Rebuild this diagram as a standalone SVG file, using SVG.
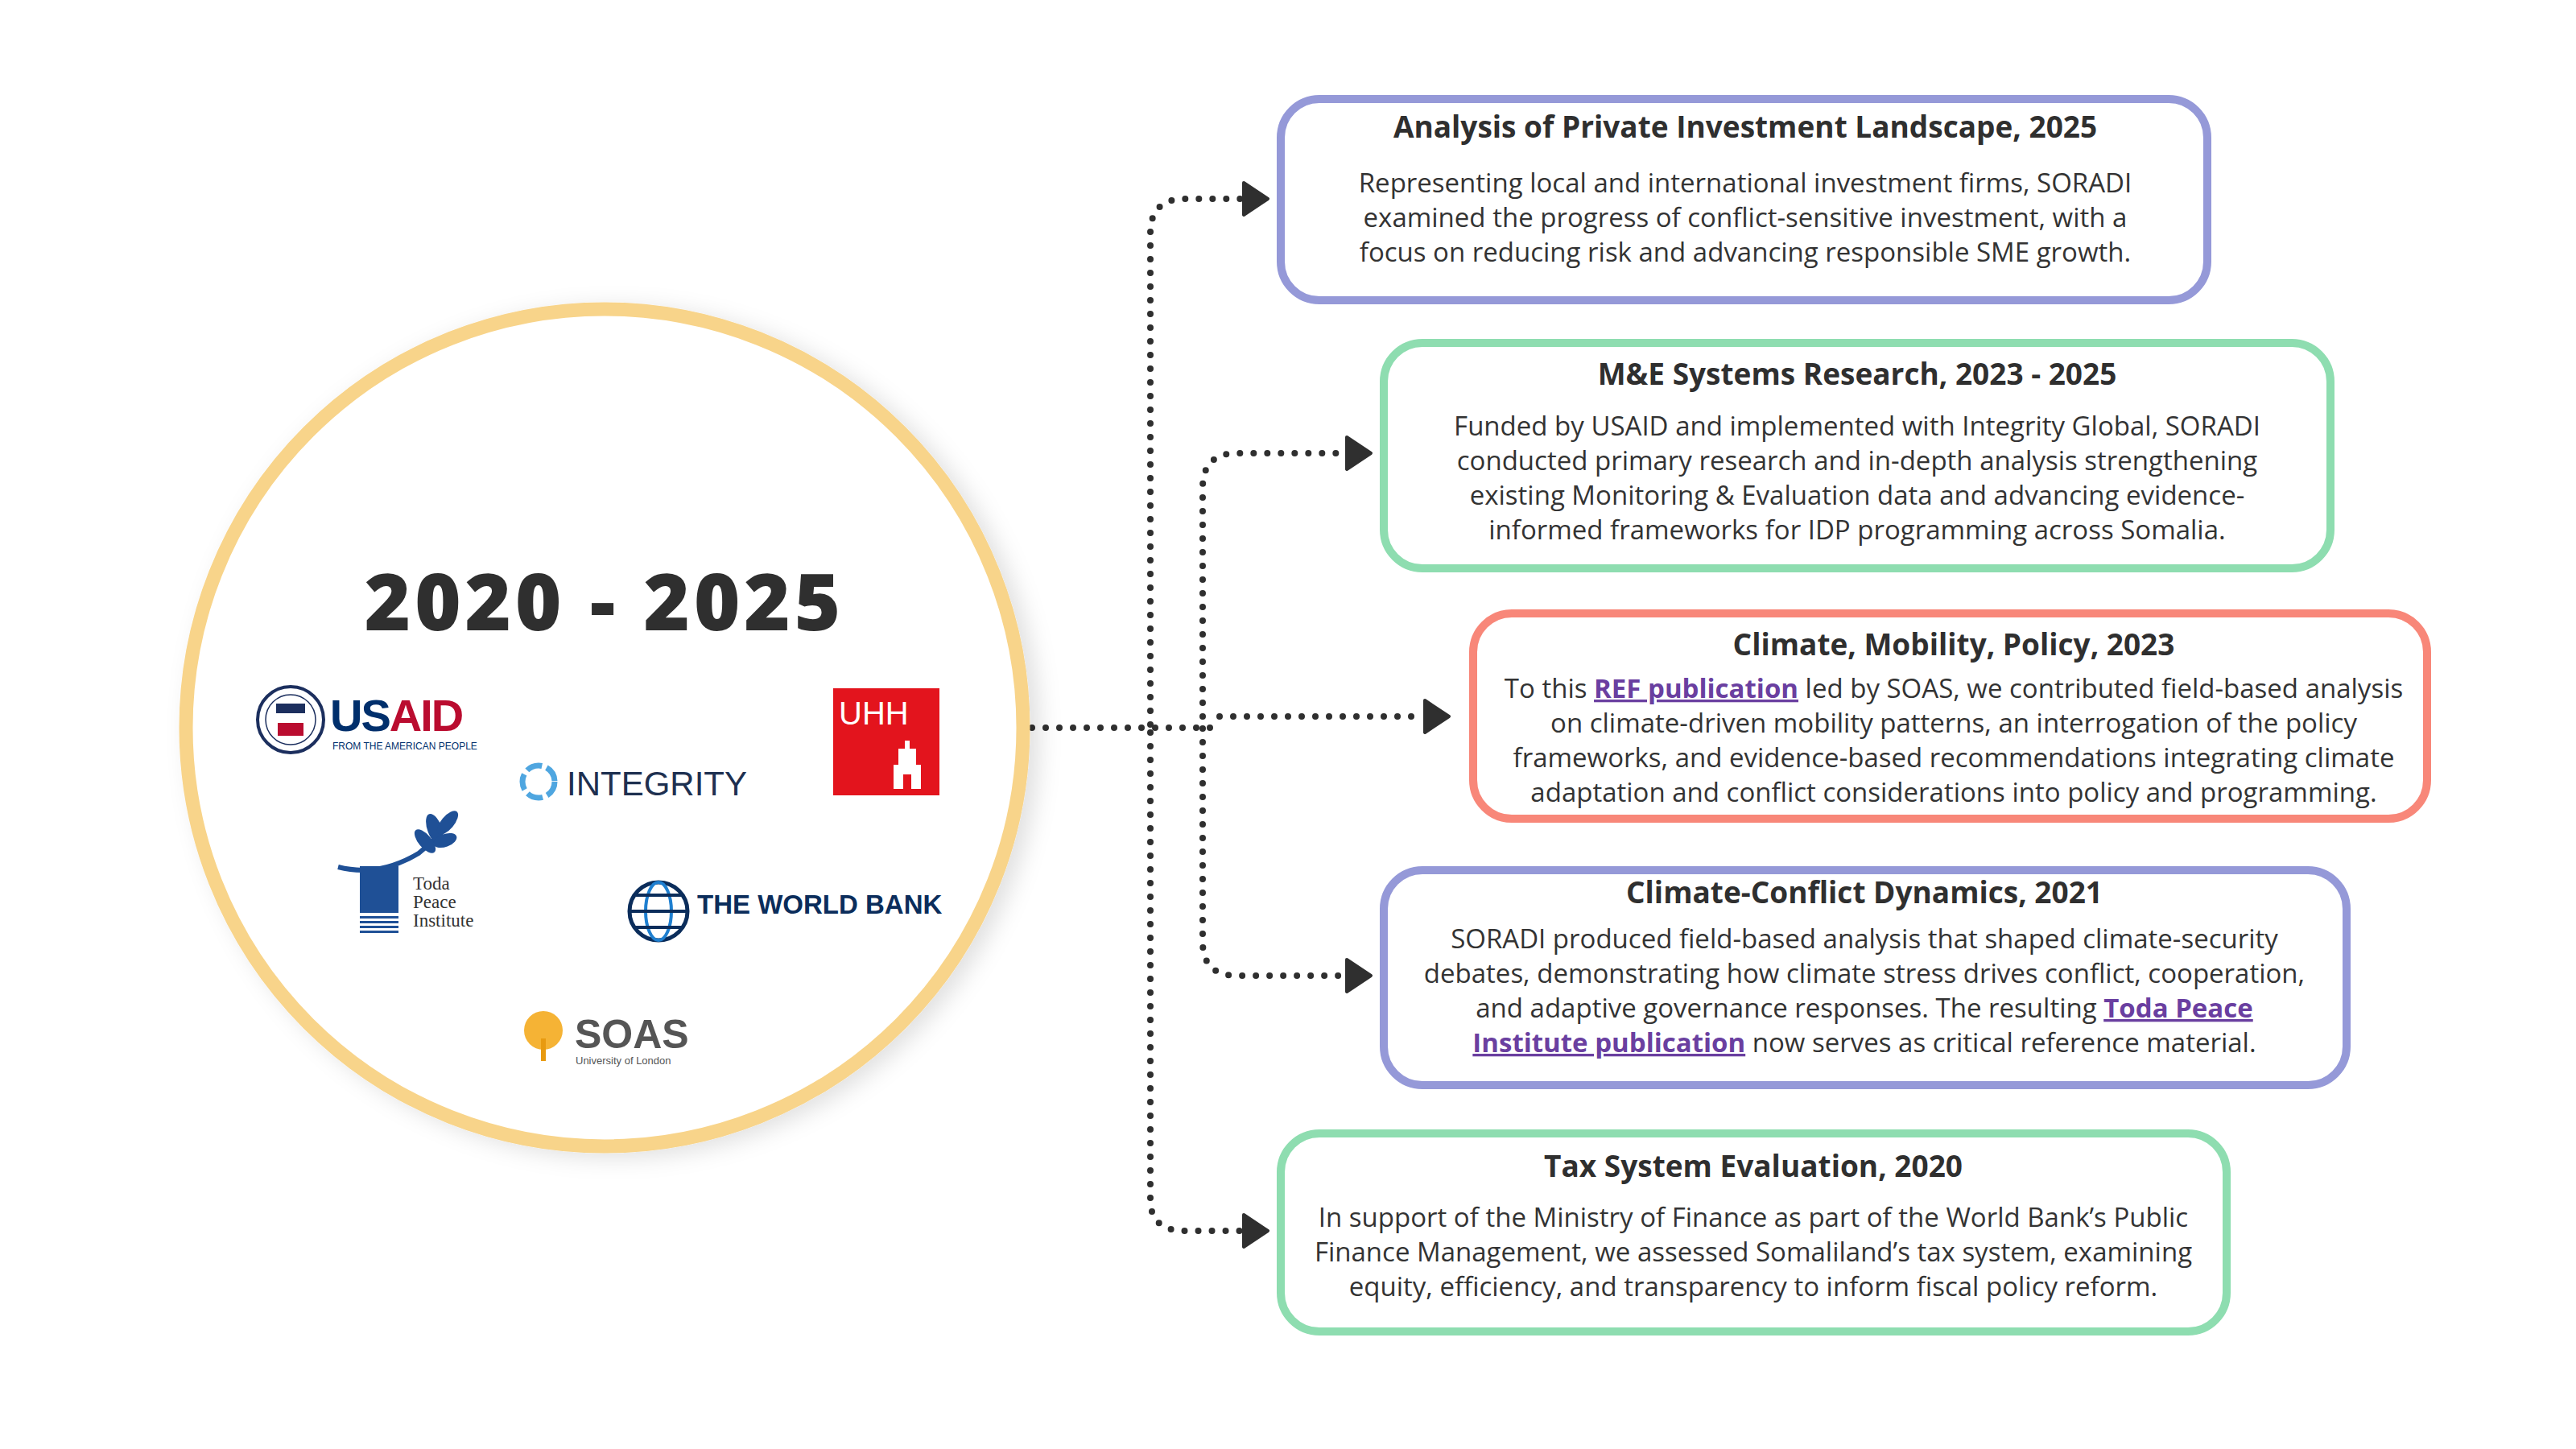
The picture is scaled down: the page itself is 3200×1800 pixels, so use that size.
<svg xmlns="http://www.w3.org/2000/svg" width="3200" height="1800" viewBox="0 0 3200 1800">
<style>
.box{fill:#fff;stroke-width:10}
.pur{stroke:#9599D8}.grn{stroke:#8EDDB0}.red{stroke:#F88779}
.t{font-family:"Open Sans","Liberation Sans",sans-serif;font-weight:700;font-size:37px;fill:#2f2f2f;text-anchor:middle}
.b{font-family:"Open Sans","Liberation Sans",sans-serif;font-size:33px;fill:#333;text-anchor:middle}
.lk{font-weight:700;fill:#6A3FA0;text-decoration:underline}
.c{fill:none;stroke:#2f2f2f;stroke-width:8;stroke-linecap:round;stroke-dasharray:0 17}
.m{marker-end:url(#ah)}
</style>
<defs>
<marker id="ah" markerUnits="userSpaceOnUse" markerWidth="40" markerHeight="50" refX="4" refY="25" orient="auto">
<path d="M4,5 L34,25 L4,45 Z" fill="#2f2f2f" stroke="#2f2f2f" stroke-width="4" stroke-linejoin="round"/>
</marker>
<filter id="sh" x="-20%" y="-20%" width="140%" height="140%"><feDropShadow dx="12" dy="6" stdDeviation="14" flood-color="#000" flood-opacity="0.12"/></filter>
</defs>
<rect width="3200" height="1800" fill="#fff"/>
<g id="connectors">
<path class="c" d="M1282,904 H1510"/>
<path class="c m" d="M1515,890 H1770"/>
<path class="c m" d="M1429,900 V290 Q1429,247 1472,247 H1545"/>
<path class="c m" d="M1429,910 V1490 Q1429,1529 1472,1529 H1545"/>
<path class="c m" d="M1494,890 V606 Q1494,563 1537,563 H1673"/>
<path class="c m" d="M1494,905 V1170 Q1494,1212 1537,1212 H1673"/>
</g>
<g id="circle">
<circle cx="751" cy="904" r="520" fill="#fff" stroke="#F8D48A" stroke-width="17" filter="url(#sh)"/>
<text x="751" y="783" font-family="'Open Sans','Liberation Sans',sans-serif" font-weight="800" font-size="98" fill="#2f2f2f" text-anchor="middle" letter-spacing="5">2020 - 2025</text>
</g>
<g id="logo-usaid">
<circle cx="361" cy="894" r="41" fill="#fff" stroke="#1c2f5e" stroke-width="4"/>
<circle cx="361" cy="894" r="31" fill="none" stroke="#1c2f5e" stroke-width="1.5"/>
<rect x="343" y="874" width="36" height="12" fill="#1c2f5e"/>
<rect x="345" y="898" width="32" height="16" fill="#BA0C2F"/>
<text x="410" y="908" font-family="'Liberation Sans',sans-serif" font-weight="700" font-size="56" letter-spacing="-2"><tspan fill="#002F6C">US</tspan><tspan fill="#BA0C2F">AID</tspan></text>
<text x="413" y="931" font-family="'Liberation Sans',sans-serif" font-size="12" fill="#002F6C">FROM THE AMERICAN PEOPLE</text>
</g>
<g id="logo-integrity">
<circle cx="669" cy="971" r="20" fill="none" stroke="#4FA6E0" stroke-width="7" stroke-dasharray="20 6"/>
<text x="704" y="988" font-family="'Liberation Sans',sans-serif" font-size="42" fill="#1E3050">INTEGRITY</text>
</g>
<g id="logo-uhh">
<rect x="1035" y="855" width="132" height="133" fill="#E3141D"/>
<text x="1042" y="900" font-family="'Liberation Sans',sans-serif" font-size="40" fill="#fff">UHH</text>
<path d="M1110,980 V950 H1116 V930 H1124 V920 H1130 V930 H1138 V950 H1144 V980 H1132 V962 H1122 V980 Z" fill="#fff"/>
</g>
<g id="logo-toda">
<path d="M420,1077 Q470,1090 520,1060 Q545,1040 560,1020" fill="none" stroke="#1F5096" stroke-width="6"/>
<ellipse cx="540" cy="1030" rx="9" ry="20" fill="#1F5096" transform="rotate(-20 540 1030)"/>
<ellipse cx="556" cy="1022" rx="8" ry="18" fill="#1F5096" transform="rotate(40 556 1022)"/>
<ellipse cx="528" cy="1045" rx="8" ry="18" fill="#1F5096" transform="rotate(-40 528 1045)"/>
<ellipse cx="553" cy="1044" rx="8" ry="15" fill="#1F5096" transform="rotate(70 553 1044)"/>
<rect x="447" y="1076" width="48" height="58" fill="#1F5096"/>
<rect x="447" y="1138" width="48" height="3" fill="#1F5096"/>
<rect x="447" y="1144" width="48" height="3" fill="#1F5096"/>
<rect x="447" y="1150" width="48" height="3" fill="#1F5096"/>
<rect x="447" y="1156" width="48" height="3" fill="#1F5096"/>
<text font-family="'Liberation Serif',serif" font-size="23" fill="#333"><tspan x="513" y="1105">Toda</tspan><tspan x="513" y="1128">Peace</tspan><tspan x="513" y="1151">Institute</tspan></text>
</g>
<g id="logo-worldbank">
<circle cx="818" cy="1132" r="36" fill="none" stroke="#0B2D5B" stroke-width="5"/>
<ellipse cx="818" cy="1132" rx="16" ry="36" fill="none" stroke="#1E7FD0" stroke-width="4"/>
<path d="M782,1132 H854 M788,1112 H848 M788,1152 H848" stroke="#0B2D5B" stroke-width="4"/>
<text x="866" y="1135" font-family="'Liberation Sans',sans-serif" font-weight="700" font-size="33" fill="#0B2D5B">THE WORLD BANK</text>
</g>
<g id="logo-soas">
<circle cx="675" cy="1280" r="24" fill="#F5B335"/>
<rect x="672" y="1290" width="6" height="28" fill="#E89A10"/>
<text x="714" y="1302" font-family="'Liberation Sans',sans-serif" font-weight="700" font-size="50" fill="#555">SOAS</text>
<text x="715" y="1322" font-family="'Liberation Sans',sans-serif" font-size="13" fill="#555">University of London</text>
</g>
<g id="box1">
<rect class="box pur" x="1591" y="123" width="1151" height="250" rx="48"/>
<text class="t" x="2168" y="171">Analysis of Private Investment Landscape, 2025</text>
<text class="b"><tspan x="2168" y="239">Representing local and international investment firms, SORADI</tspan><tspan x="2168" y="282">examined the progress of conflict-sensitive investment, with a</tspan><tspan x="2168" y="325">focus on reducing risk and advancing responsible SME growth.</tspan></text>
</g>
<g id="box2">
<rect class="box grn" x="1719" y="426" width="1176" height="280" rx="48"/>
<text class="t" x="2307" y="478">M&amp;E Systems Research, 2023 - 2025</text>
<text class="b"><tspan x="2307" y="541">Funded by USAID and implemented with Integrity Global, SORADI</tspan><tspan x="2307" y="584">conducted primary research and in-depth analysis strengthening</tspan><tspan x="2307" y="627">existing Monitoring &amp; Evaluation data and advancing evidence-</tspan><tspan x="2307" y="670">informed frameworks for IDP programming across Somalia.</tspan></text>
</g>
<g id="box3">
<rect class="box red" x="1830" y="762" width="1185" height="255" rx="48"/>
<text class="t" x="2427" y="814">Climate, Mobility, Policy, 2023</text>
<text class="b"><tspan x="2427" y="867">To this <tspan class="lk">REF publication</tspan> led by SOAS, we contributed field-based analysis</tspan><tspan x="2427" y="910">on climate-driven mobility patterns, an interrogation of the policy</tspan><tspan x="2427" y="953">frameworks, and evidence-based recommendations integrating climate</tspan><tspan x="2427" y="996">adaptation and conflict considerations into policy and programming.</tspan></text>
</g>
<g id="box4">
<rect class="box pur" x="1719" y="1081" width="1196" height="267" rx="48"/>
<text class="t" x="2316" y="1122">Climate-Conflict Dynamics, 2021</text>
<text class="b"><tspan x="2316" y="1178">SORADI produced field-based analysis that shaped climate-security</tspan><tspan x="2316" y="1221">debates, demonstrating how climate stress drives conflict, cooperation,</tspan><tspan x="2316" y="1264">and adaptive governance responses. The resulting <tspan class="lk">Toda Peace</tspan></tspan><tspan x="2316" y="1307"><tspan class="lk">Institute publication</tspan> now serves as critical reference material.</tspan></text>
</g>
<g id="box5">
<rect class="box grn" x="1591" y="1408" width="1175" height="246" rx="48"/>
<text class="t" x="2178" y="1462">Tax System Evaluation, 2020</text>
<text class="b"><tspan x="2178" y="1524">In support of the Ministry of Finance as part of the World Bank’s Public</tspan><tspan x="2178" y="1567">Finance Management, we assessed  Somaliland’s tax system, examining</tspan><tspan x="2178" y="1610">equity, efficiency, and transparency to inform fiscal policy reform.</tspan></text>
</g>
</svg>
